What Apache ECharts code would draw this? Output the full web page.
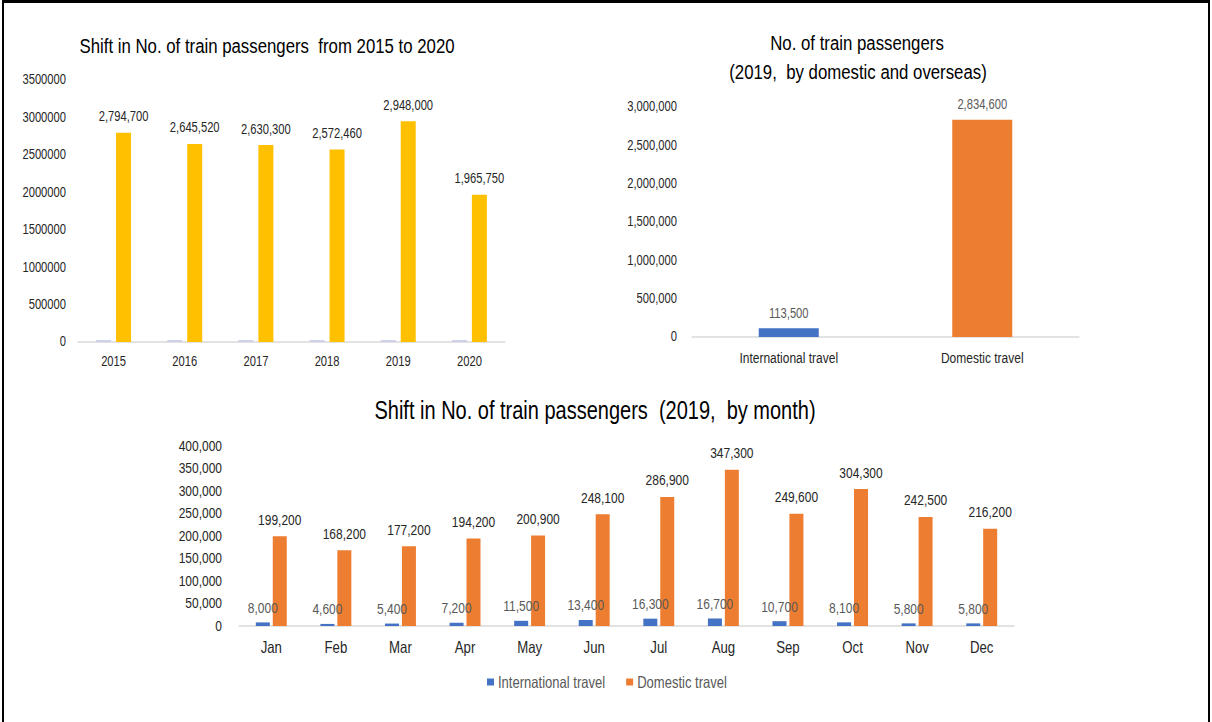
<!DOCTYPE html>
<html>
<head>
<meta charset="utf-8">
<script src="https://cdn.jsdelivr.net/npm/echarts@6/dist/echarts.min.js"></script>
<style>
  html, body { margin: 0; padding: 0; background: #fff; overflow: hidden; }
  #wrap { position: relative; width: 1212px; height: 722px; overflow: hidden; }
  /* 原图文字是横向压窄的 Arial，这里整体横向压缩 */
  #main { width: 1515px; height: 722px; transform: scaleX(0.8); transform-origin: 0 0; }
  #frame { position: absolute; left: 2px; top: 0; width: 1208px; height: 722px;
           border-top: 3px solid #000; border-left: 2px solid #000; border-right: 2px solid #000;
           box-sizing: border-box; pointer-events: none; }
</style>
</head>
<body>
<div id="wrap">
  <div id="main"></div>
  <div id="frame"></div>
</div>
<script>
// 年度数据
var years = ['2015', '2016', '2017', '2018', '2019', '2020'];
var yearSeries = [2015, 2016, 2017, 2018, 2019, 2020]; // 年份列也被画成了一列(几乎为0)
var yearPassengers = [2794700, 2645520, 2630300, 2572460, 2948000, 1965750];

// 2019 国内/境外
var travelTypes = ['International travel', 'Domestic travel'];
var travel2019 = [113500, 2834600];

// 2019 按月
var months = ['Jan', 'Feb', 'Mar', 'Apr', 'May', 'Jun', 'Jul', 'Aug', 'Sep', 'Oct', 'Nov', 'Dec'];
var intlMonthly = [8000, 4600, 5400, 7200, 11500, 13400, 16300, 16700, 10700, 8100, 5800, 5800];
var domMonthly = [199200, 168200, 177200, 194200, 200900, 248100, 286900, 347300, 249600, 304300, 242500, 216200];

var FONT = '"Liberation Sans", Arial, sans-serif';
var SX = 0.8; // 横向压缩比例, x 方向的位置都要除以它
var fmt = function(v) { return Number(v).toLocaleString('en-US'); };
var X = function(px) { return px / SX; };

var myChart = echarts.init(document.getElementById('main'), null, { renderer: 'svg' });

function titleText(x, y, text, size) {
    return {
        type: 'text', x: X(x), y: y,
        style: { text: text, fill: '#000', font: size + 'px ' + FONT, textAlign: 'center', textVerticalAlign: 'middle' }
    };
}

var axisLine = { show: true, lineStyle: { color: '#d9d9d9', width: 1.5 } };

var option = {
    backgroundColor: '#fff',
    animation: false,
    textStyle: { fontFamily: FONT },
    graphic: [
        titleText(267, 46, 'Shift in No. of train passengers  from 2015 to 2020', 21),
        titleText(857, 43, 'No. of train passengers', 21),
        titleText(858, 72, '(2019,  by domestic and overseas)', 21),
        titleText(595, 411, 'Shift in No. of train passengers  (2019,  by month)', 25)
    ],
    legend: {
        data: ['International travel', 'Domestic travel'],
        left: X(483), top: 669,
        icon: 'rect', itemWidth: X(7), itemHeight: 7, itemGap: X(21),
        textStyle: { color: '#595959', fontSize: 16.3, fontFamily: FONT }
    },
    grid: [
        { left: X(78), top: 80, width: X(427), height: 262 },
        { left: X(692), top: 107, width: X(387), height: 230 },
        { left: X(239), top: 446, width: X(775), height: 180 }
    ],
    xAxis: [
        { type: 'category', gridIndex: 0, data: years, axisLine: axisLine, axisTick: { show: false },
          axisLabel: { color: '#262626', fontSize: 14, margin: 13 } },
        { type: 'category', gridIndex: 1, data: travelTypes, axisLine: axisLine, axisTick: { show: false },
          axisLabel: { color: '#262626', fontSize: 15, margin: 14 } },
        { type: 'category', gridIndex: 2, data: months, axisLine: axisLine, axisTick: { show: false },
          axisLabel: { color: '#262626', fontSize: 16.5, margin: 12 } }
    ],
    yAxis: [
        { type: 'value', gridIndex: 0, min: 0, max: 3500000, interval: 500000, splitLine: { show: false },
          axisLabel: { color: '#262626', fontSize: 14, margin: X(12), formatter: function(v) { return String(v); } } },
        { type: 'value', gridIndex: 1, min: 0, max: 3000000, interval: 500000, splitLine: { show: false },
          axisLabel: { color: '#262626', fontSize: 14, margin: X(15), formatter: fmt } },
        { type: 'value', gridIndex: 2, min: 0, max: 400000, interval: 50000, splitLine: { show: false },
          axisLabel: { color: '#262626', fontSize: 15, margin: X(17), formatter: fmt } }
    ],
    series: [
        {
            name: 'Year', type: 'bar', xAxisIndex: 0, yAxisIndex: 0, data: yearSeries,
            barWidth: X(15), barGap: '33%', barMinHeight: 2,
            itemStyle: { color: '#cdd2ea' }
        },
        {
            name: 'Passengers', type: 'bar', xAxisIndex: 0, yAxisIndex: 0, data: yearPassengers,
            barWidth: X(15),
            itemStyle: { color: '#ffc000' },
            label: { show: true, position: 'top', distance: 9, color: '#262626', fontSize: 14,
                     formatter: function(p) { return fmt(p.value); } }
        },
        {
            name: '2019', type: 'bar', xAxisIndex: 1, yAxisIndex: 1, barWidth: X(60),
            data: [
                { value: travel2019[0], itemStyle: { color: '#4472c4' } },
                { value: travel2019[1], itemStyle: { color: '#ed7d31' } }
            ],
            label: { show: true, position: 'top', distance: 8, color: '#595959', fontSize: 14,
                     formatter: function(p) { return fmt(p.value); } }
        },
        {
            name: 'International travel', type: 'bar', xAxisIndex: 2, yAxisIndex: 2, data: intlMonthly,
            barWidth: X(14), barGap: '21%',
            itemStyle: { color: '#4472c4' },
            label: { show: true, position: 'top', distance: 7, color: '#595959', fontSize: 15,
                     formatter: function(p) { return fmt(p.value); } }
        },
        {
            name: 'Domestic travel', type: 'bar', xAxisIndex: 2, yAxisIndex: 2, data: domMonthly,
            barWidth: X(14),
            itemStyle: { color: '#ed7d31' },
            label: { show: true, position: 'top', distance: 9, color: '#262626', fontSize: 15,
                     formatter: function(p) { return fmt(p.value); } }
        }
    ]
};

myChart.setOption(option);
</script>
</body>
</html>
